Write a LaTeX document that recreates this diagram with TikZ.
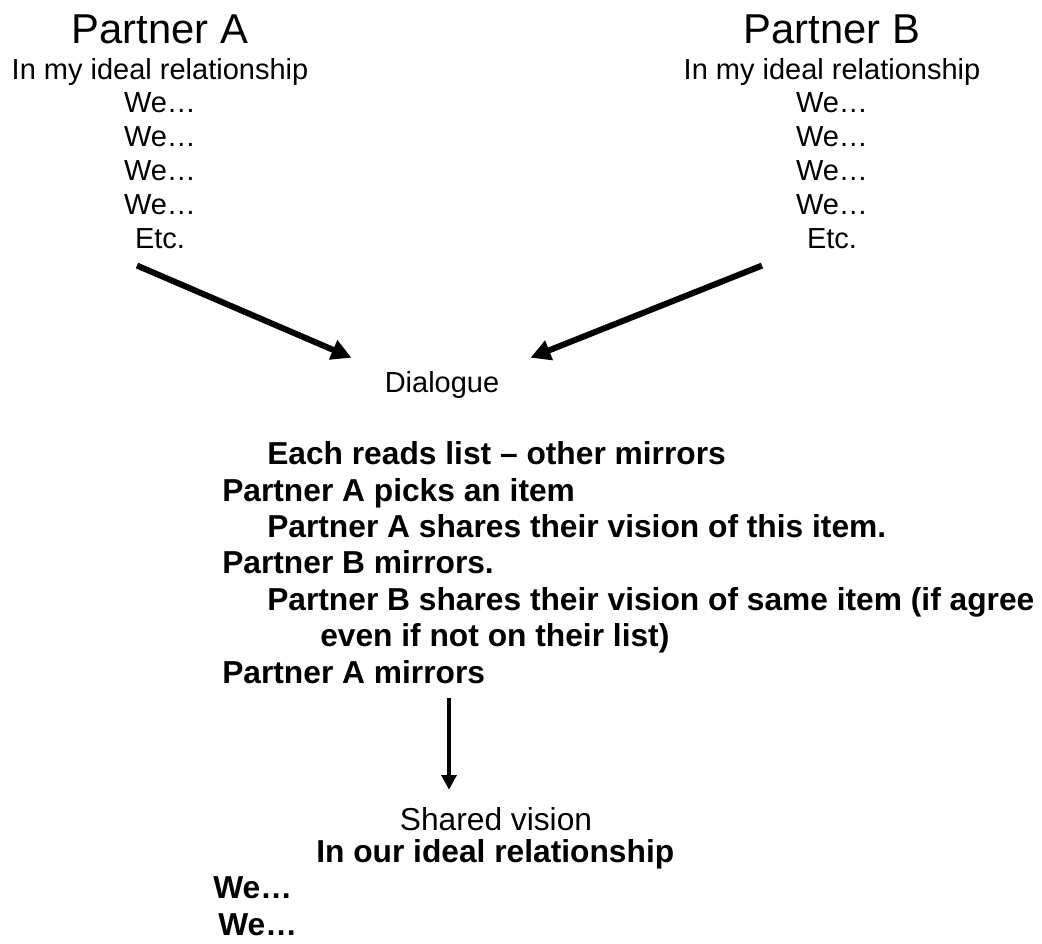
\documentclass[tikz,border=0pt]{standalone}
\usepackage{fontspec}
\setmainfont{Liberation Sans}
\usetikzlibrary{arrows.meta}

\begin{document}
\begin{tikzpicture}[
x=0.75pt, y=-0.75pt,
title/.style={anchor=base, inner sep=0pt, font=\fontsize{31.3}{36}\selectfont},
plain/.style={anchor=base, inner sep=0pt, align=center, font=\fontsize{21.75}{25.35}\selectfont},
strong/.style={anchor=base west, inner sep=0pt, align=left, font=\fontsize{23.8}{27.3}\selectfont\bfseries},
arr/.style={-{Triangle[length=15pt, width=15pt]}, line width=4.5pt},
downarr/.style={-{Triangle[length=11pt, width=11pt]}, line width=3.4pt}
]
\useasboundingbox (0,0) rectangle (1042,943);

\node[title](partA) at (160,43){Partner A};
\node[plain](listA) at (160,248){In my ideal relationship\\We…\\We…\\We…\\We…\\Etc.};
\node[title](partB) at (832,43){Partner B};
\node[plain](listB) at (832,248){In my ideal relationship\\We…\\We…\\We…\\We…\\Etc.};
\node[plain](dialogue) at (442,392){Dialogue};
\node[strong](steps) at (222,683){\hspace*{33.75pt}Each reads list – other mirrors\\
Partner A picks an item\\
\hspace*{33.75pt}Partner A shares their vision of this item.\\
Partner B mirrors.\\
\hspace*{33.75pt}Partner B shares their vision of same item (if agree\\
\hspace*{73.5pt}even if not on their list)\\
Partner A mirrors};
\node[plain, font=\fontsize{23.8}{27.6}\selectfont](shared) at (496,830){Shared vision};
\node[strong](ours) at (213,935){\hspace*{77.25pt}In our ideal relationship\\We…\\\hspace*{3.75pt}We…};

\draw[arr] ([shift={(-23,17)}]listA.south) -- ([shift={(-33,-13)}]dialogue.north west);
\draw[arr] ([shift={(-70,17)}]listB.south) -- ([shift={(31,-13)}]dialogue.north east);
\draw[downarr] ([shift={(227,14)}]steps.south west) -- ([shift={(-47,-17)}]shared.north);

\end{tikzpicture}
\end{document}
